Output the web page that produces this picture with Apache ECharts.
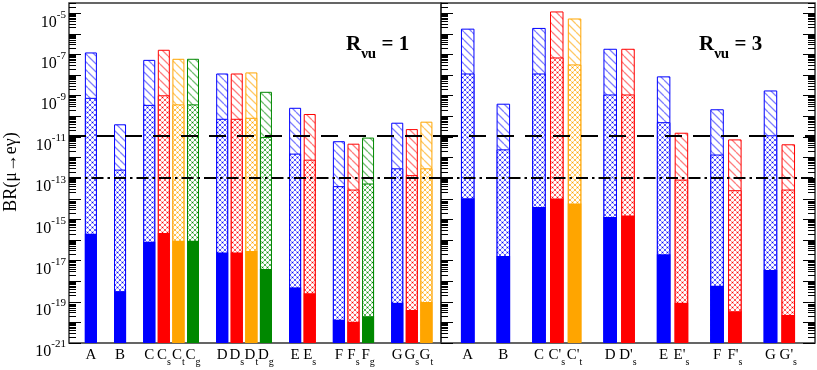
<!DOCTYPE html>
<html>
<head>
<meta charset="utf-8">
<script src="https://cdn.jsdelivr.net/npm/echarts@6/dist/echarts.min.js"></script>
<style>html,body{margin:0;padding:0;background:#fff}#c{width:817px;height:370px}</style>
</head>
<body>
<div id="c"></div>
<script>
// ---------- data ----------
// left panel (R_vu = 1); '' = empty slot between groups
const catsL = ['A','','B','','C','C_s','C_t','C_g','','D','D_s','D_t','D_g','','E','E_s','','F','F_s','F_g','','G','G_s','G_t'];
const topL = [1.26e-7,null,4.1e-11,null,5.5e-8,1.7e-7,6.2e-8,6.2e-8,null,1.2e-8,1.2e-8,1.35e-8,1.55e-9,null,2.6e-10,1.3e-10,null,6.2e-12,4.7e-12,9.3e-12,null,4.9e-11,2.4e-11,5.5e-11];
const midL = [7.9e-10,null,2.6e-13,null,3.6e-10,1.05e-9,3.8e-10,3.8e-10,null,7.6e-11,7.6e-11,8.5e-11,1.0e-11,null,1.55e-12,7.9e-13,null,4.1e-14,2.8e-14,5.5e-14,null,3.0e-13,1.4e-13,3.0e-13];
const lowL = [2.0e-16,null,3.3e-19,null,8.1e-17,2.2e-16,9.1e-17,9.1e-17,null,2.5e-17,2.5e-17,2.9e-17,3.9e-18,null,5.0e-19,2.6e-19,null,1.35e-20,1.07e-20,2.0e-20,null,8.9e-20,4.0e-20,9.8e-20];
// right panel (R_vu = 3)
const catsR = ['A','','B','','C',"C'_s","C'_t",'','D',"D'_s",'','E',"E'_s",'','F',"F'_s",'','G',"G'_s"];
const topR = [1.8e-6,null,4.1e-10,null,1.95e-6,1.23e-5,5.6e-6,null,1.9e-7,1.9e-7,null,8.7e-9,1.6e-11,null,2.2e-10,7.6e-12,null,1.8e-9,4.4e-12];
const midR = [1.2e-8,null,2.5e-12,null,1.2e-8,7.2e-8,3.3e-8,null,1.15e-9,1.15e-9,null,5.2e-11,8.5e-14,null,1.4e-12,2.6e-14,null,1.2e-11,2.8e-14];
const lowR = [1.07e-14,null,1.66e-17,null,4.0e-15,1.02e-14,5.9e-15,null,1.3e-15,1.55e-15,null,2.0e-17,8.9e-20,null,6.0e-19,3.5e-20,null,3.5e-18,2.3e-20];
// axis
const yMinExp = -21, yMaxExp = -4.5;
const yLabelExps = [-21,-19,-17,-15,-13,-11,-9,-7,-5];
const limitLines = [1.2e-11, 1e-13];
const panelTitles = ['1', '3'];

// ---------- helpers ----------
const FONT = "'Liberation Serif','Times New Roman',serif";
const s = v => Math.log10(v) - yMinExp;  // shifted log position
const colors = {'': ['#0000ff','rgba(0,0,255,0.5)'], s: ['#ff0000','rgba(255,0,0,0.5)'], t: ['#ffa500','rgba(255,165,0,0.6)'], g: ['#008800','rgba(0,136,0,0.55)']};
function colKey(name){ const p = name.split('_'); return p.length > 1 ? p[1] : ''; }

function diagPattern(col){
  const n = 8, c = document.createElement('canvas'); c.width = c.height = n;
  const g = c.getContext('2d'); g.fillStyle = '#fff'; g.fillRect(0,0,n,n);
  g.strokeStyle = col; g.lineWidth = 1.3; g.beginPath();
  for (const o of [-n,0,n]) { g.moveTo(o,0); g.lineTo(o+n,n); }
  g.stroke(); return c;
}
function crossPattern(lc, dc){
  const n = 5, c = document.createElement('canvas'); c.width = c.height = n;
  const g = c.getContext('2d'); g.fillStyle = '#fff'; g.fillRect(0,0,n,n);
  g.strokeStyle = lc; g.lineWidth = 0.8; g.beginPath();
  for (const o of [-n,0,n]) { g.moveTo(o,0); g.lineTo(o+n,n); g.moveTo(o+n,0); g.lineTo(o,n); }
  g.stroke();
  g.fillStyle = dc;
  for (const [x,y] of [[n/2,n/2],[0,0],[n,0],[0,n],[n,n]]) { g.beginPath(); g.arc(x,y,0.8,0,Math.PI*2); g.fill(); }
  return c;
}
const pats = {};
for (const k in colors) pats[k] = {diag: {image: diagPattern(colors[k][1]), repeat: 'repeat'}, cross: {image: crossPattern(colors[k][1], colors[k][0]), repeat: 'repeat'}};

function fmtCat(name){
  if (!name) return '';
  const p = name.split('_');
  return p.length > 1 ? '{m|' + p[0] + '}{s|' + p[1] + '}' : '{m|' + name + '}';
}

// ---------- ticks ----------
const majorTicks = [], minorTicks = [];
for (let n = 0; n <= yMaxExp - yMinExp; n++) {
  majorTicks.push(n);
  for (let k = 2; k <= 9; k++) { const v = n + Math.log10(k); if (v < yMaxExp - yMinExp) minorTicks.push(v); }
}
const yLabelVals = yLabelExps.map(e => e - yMinExp);

function yAx(grid, pos, major, labels){
  return {
    type: 'value', gridIndex: grid, position: pos, min: 0, max: yMaxExp - yMinExp,
    axisLine: {show: false, onZero: false}, splitLine: {show: false},
    axisTick: {show: true, inside: true, length: major ? 12 : 7, customValues: major ? majorTicks : minorTicks, lineStyle: {color: '#000', width: 1}},
    axisLabel: labels ? {
      show: true, customValues: yLabelVals, margin: 3,
      formatter: v => '{b|10}{e|' + Math.round(v + yMinExp) + '}',
      rich: {
        b: {fontFamily: FONT, fontSize: 16, lineHeight: 16, padding: [9,0,0,0], verticalAlign: 'top', color: '#000'},
        e: {fontFamily: FONT, fontSize: 11, lineHeight: 11, padding: [4,0,0,0], verticalAlign: 'top', color: '#000'}
      }
    } : {show: false}
  };
}
function xAx(grid, cats, max){
  const vals = []; cats.forEach((c,i) => { if (c) vals.push(i); });
  return {
    type: 'value', gridIndex: grid, min: -1.5, max: max,
    axisLine: {show: false, onZero: false}, splitLine: {show: false}, axisTick: {show: false},
    axisLabel: {
      show: true, customValues: vals, margin: 5, verticalAlign: 'top',
      formatter: v => fmtCat(cats[Math.round(v)]),
      rich: {
        m: {fontFamily: FONT, fontSize: 15, lineHeight: 16, verticalAlign: 'top', color: '#000'},
        s: {fontFamily: FONT, fontSize: 10, lineHeight: 10, padding: [9,0,0,0], verticalAlign: 'top', color: '#000'}
      }
    }
  };
}

function panelSeries(grid, yIdx, cats, top, mid, low, bw){
  const mk = (arr, kind) => {
    const data = [];
    cats.forEach((c,i) => {
      if (!c || arr[i] == null) return;
      const k = colKey(c), col = colors[k][0];
      data.push({
        value: [i, s(arr[i])],
        itemStyle: kind === 'solid' ? {color: col, borderWidth: 0} : {color: pats[k][kind], borderColor: col, borderWidth: 1}
      });
    });
    return {type: 'bar', xAxisIndex: grid, yAxisIndex: yIdx, barWidth: bw, barGap: '-100%', data: data, silent: true, animation: false};
  };
  const out = [mk(top, 'diag'), mk(mid, 'cross'), mk(low, 'solid')];
  out.push({
    type: 'line', xAxisIndex: grid, yAxisIndex: yIdx, data: [], silent: true,
    markLine: {
      silent: true, symbol: 'none', label: {show: false}, animation: false,
      data: [
        {yAxis: s(limitLines[0]), lineStyle: {color: '#000', width: 2, type: [17,11]}},
        {yAxis: s(limitLines[1]), lineStyle: {color: '#000', width: 2, type: [12,4,2.5,4]}}
      ]
    }
  });
  return out;
}

function title(x, num){
  return {
    type: 'text', left: x, top: 34, z: 100,
    style: {
      text: '{a|R}{b|νu}{a| = ' + num + '}',
      rich: {
        a: {fontFamily: FONT, fontSize: 21, fontWeight: 'bold', lineHeight: 21, verticalAlign: 'top', fill: '#000'},
        b: {fontFamily: FONT, fontSize: 15, fontWeight: 'bold', lineHeight: 15, padding: [13,0,0,0], verticalAlign: 'top', fill: '#000'}
      }
    }
  };
}

const chart = echarts.init(document.getElementById('c'), null, {renderer: 'canvas'});
chart.setOption({
  animation: false,
  backgroundColor: '#fff',
  grid: [
    {left: 69, top: 3, width: 372, height: 340, show: true, borderColor: '#333', borderWidth: 1.5, backgroundColor: 'transparent'},
    {left: 441, top: 3, width: 374, height: 340, show: true, borderColor: '#333', borderWidth: 1.5, backgroundColor: 'transparent'}
  ],
  xAxis: [xAx(0, catsL, 24), xAx(1, catsR, 19.5)],
  yAxis: [
    yAx(0, 'left', true, true), yAx(0, 'left', false, false),
    yAx(1, 'left', true, false), yAx(1, 'left', false, false),
    yAx(1, 'right', true, false), yAx(1, 'right', false, false)
  ],
  series: [
    ...panelSeries(0, 0, catsL, topL, midL, lowL, 12),
    ...panelSeries(1, 2, catsR, topR, midR, lowR, 13.5)
  ],
  graphic: [
    {type: 'text', x: 11, y: 172, rotation: Math.PI/2, style: {text: 'BR(μ→eγ)', fontFamily: FONT, fontSize: 18, fill: '#000', align: 'center', verticalAlign: 'middle'}},
    title(346, panelTitles[0]),
    title(699, panelTitles[1])
  ]
});
</script>
</body>
</html>
